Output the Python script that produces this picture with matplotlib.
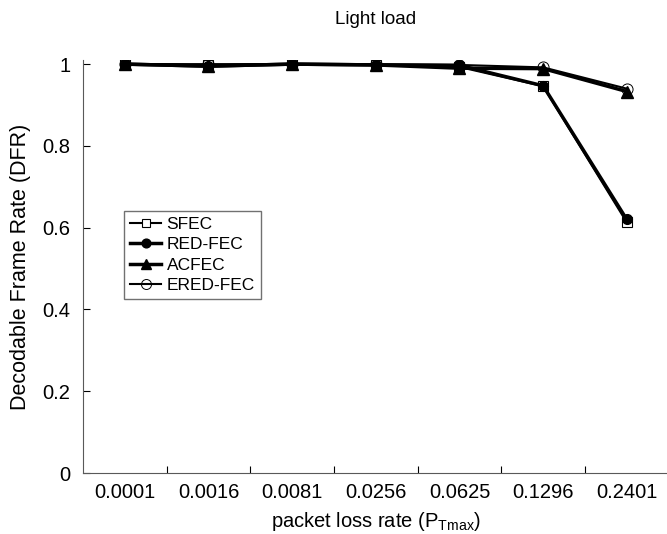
import matplotlib
matplotlib.use("Agg")
import matplotlib.pyplot as plt
import numpy as np

plt.rcParams['font.family'] = ['Liberation Sans', 'DejaVu Sans']

loss_labels = ["0.0001", "0.0016", "0.0081", "0.0256", "0.0625", "0.1296", "0.2401"]
sfec = [1.0, 0.997, 1.0, 0.998, 0.993, 0.946, 0.613]
red_fec = [1.0, 0.995, 1.0, 0.998, 0.997, 0.947, 0.620]
acfec = [1.0, 0.995, 1.0, 0.998, 0.990, 0.989, 0.933]
ered_fec = [1.0, 1.0, 1.0, 1.0, 0.998, 0.992, 0.940]

x = np.arange(1, len(loss_labels) + 1)

fig = plt.figure(figsize=(6.67, 5.34), dpi=100)
ax = fig.add_axes([0.1244, 0.1142, 0.878, 0.7734])

ax.plot(x, sfec, "k-", lw=1.5, marker="s", ms=7, mfc="white", mec="k", mew=0.8, label="SFEC")
ax.plot(x, red_fec, "k-", lw=2.5, marker="o", ms=7, mfc="k", label="RED-FEC")
ax.plot(x, acfec, "k-", lw=2.5, marker="^", ms=8, mfc="k", label="ACFEC")
ax.plot(x, ered_fec, "k-", lw=1.5, marker="o", ms=8, mfc="none", mec="k", mew=0.7, label="ERED-FEC")

ax.set_xlim(0.5, 7.5)
ax.set_ylim(0, 1.01)
ax.set_xticks(np.arange(1.5, 7.5, 1))
ax.set_xticklabels([])
ax.set_xticks(x, minor=True)
ax.set_xticklabels(loss_labels, minor=True, fontsize=14.5)
ax.tick_params(axis="x", which="minor", length=0, pad=7)
ax.tick_params(axis="x", which="major", direction="in", length=5)
ax.set_yticks([0, 0.2, 0.4, 0.6, 0.8, 1.0])
ax.set_yticklabels(["0", "0.2", "0.4", "0.6", "0.8", "1"], fontsize=14.5)
ax.tick_params(axis="y", direction="in", length=5, pad=9)
for s in ["top", "right"]:
    ax.spines[s].set_visible(False)
for s in ["left", "bottom"]:
    ax.spines[s].set_color("0.35")

ax.set_xlabel(r"packet loss rate (P$_{\mathregular{Tmax}}$)", fontsize=14.5, labelpad=6)
ax.set_ylabel("Decodable Frame Rate (DFR)", fontsize=15.5, labelpad=8)
ax.set_title("Light load", fontsize=13.5, pad=26)

ax.legend(loc="upper left", bbox_to_anchor=(0.07, 0.635), fontsize=12.5,
          frameon=True, fancybox=False, edgecolor="0.3", handlelength=1.8,
          handletextpad=0.3, borderaxespad=0, labelspacing=0.3,
          borderpad=0.35, markerscale=0.9)

fig.savefig("out.png", dpi=100)
